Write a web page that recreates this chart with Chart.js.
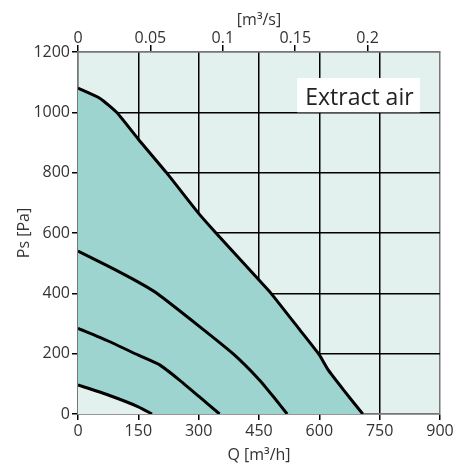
<!DOCTYPE html>
<html>
<head>
<meta charset="utf-8">
<script src="https://cdn.jsdelivr.net/npm/chart.js@4"></script>
<style>
  html, body { margin: 0; padding: 0; background: #fff; }
  #wrap { width: 460px; height: 473px; }
</style>
</head>
<body>
<div id="wrap"><canvas id="myChart" width="460" height="473"></canvas></div>
<script>
// fan curves, Q [m3/h] vs Ps [Pa]
const curveMax = [[0, 1080], [55, 1046], [96, 1000], [150, 911], [220, 800], [300, 665], [343, 600],
                  [450, 444], [480, 400], [552, 278], [600, 196], [622, 146], [660, 80], [708, 0]];
const curve2 = [[0, 540], [75, 490], [150, 437], [196, 400], [300, 292], [386, 199], [451, 113], [486, 57], [520, 0]];
const curve3 = [[0, 284], [75, 242], [150, 195], [204, 162], [250, 115], [300, 59], [352, 0]];
const curveMin = [[0, 96], [75, 63], [150, 24], [184, 0]];

const qTicks = [0, 150, 300, 450, 600, 750, 900];
const psTicks = [0, 200, 400, 600, 800, 1000, 1200];
const m3sTicks = [0, 0.05, 0.1, 0.15, 0.2];
const label = 'Extract air';

const bgLight = '#e2f1ee';
const teal = '#9dd4cf';
const font = { family: 'Open Sans', size: 16 };
const textColor = '#333';

const toXY = arr => arr.map(p => ({ x: p[0], y: p[1] }));

function line(data, fill, bg) {
    return {
        data: toXY(data),
        xAxisID: 'x',
        yAxisID: 'y',
        borderColor: '#000',
        borderWidth: 3,
        pointRadius: 0,
        tension: 0.15,
        fill: fill,
        backgroundColor: bg
    };
}

const areaPlugin = {
    id: 'areaBg',
    beforeDraw(chart) {
        const a = chart.chartArea;
        const c = chart.ctx;
        c.save();
        c.fillStyle = bgLight;
        c.fillRect(a.left, a.top, a.right - a.left, a.bottom - a.top);
        c.restore();
    },
    afterDraw(chart) {
        const c = chart.ctx;
        const x = chart.scales.x, y = chart.scales.y;
        const l = x.getPixelForValue(545), r = x.getPixelForValue(850);
        const t = y.getPixelForValue(1114), b = y.getPixelForValue(1000);
        c.save();
        c.fillStyle = '#fff';
        c.fillRect(l, t, r - l, b - t);
        c.fillStyle = '#222';
        c.font = '23px "Open Sans"';
        c.textBaseline = 'alphabetic';
        c.fillText(label, l + 8, b - 7);
        c.restore();
    }
};

const edge = (v, lo, hi) => (v === lo || v === hi) ? '#777' : '#000';

new Chart(document.getElementById('myChart'), {
    type: 'line',
    data: {
        datasets: [
            // first dataset is drawn on top: its light fill masks the teal below the smallest curve
            line(curveMin, 'origin', bgLight),
            line(curve3, false),
            line(curve2, false),
            line(curveMax, 'origin', teal)
        ]
    },
    plugins: [areaPlugin],
    options: {
        responsive: false,
        animation: false,
        layout: { padding: { right: 20, left: 0, top: 0, bottom: 0 } },
        plugins: {
            legend: { display: false },
            tooltip: { enabled: false }
        },
        scales: {
            x: {
                type: 'linear',
                position: 'bottom',
                min: 0, max: 900,
                z: 1,
                afterBuildTicks: s => { s.ticks = qTicks.map(v => ({ value: v })); },
                afterFit: s => { s.height = 59; },
                ticks: { font: font, color: textColor, padding: 2, maxRotation: 0, callback: v => String(v) },
                grid: {
                    color: ctx => edge(ctx.tick && ctx.tick.value, 0, 900),
                    tickColor: '#000',
                    lineWidth: 1.5,
                    tickLength: 6
                },
                border: { color: '#777', width: 1.5 },
                title: { display: true, text: 'Q [m³/h]', font: font, color: textColor, padding: { top: 0, bottom: 8 } }
            },
            x2: {
                type: 'linear',
                position: 'top',
                min: 0, max: 0.25,
                afterBuildTicks: s => { s.ticks = m3sTicks.map(v => ({ value: v })); },
                afterFit: s => { s.height = 52; },
                ticks: { font: font, color: textColor, padding: -3, maxRotation: 0, callback: v => String(v) },
                grid: { drawOnChartArea: false, tickColor: '#000', lineWidth: 1.5, tickLength: 7 },
                border: { color: '#777', width: 1.5 },
                title: { display: true, text: '[m³/s]', font: font, color: textColor, padding: { top: 11, bottom: 0 } }
            },
            y: {
                type: 'linear',
                min: 0, max: 1200,
                z: 1,
                afterBuildTicks: s => { s.ticks = psTicks.map(v => ({ value: v })); },
                afterFit: s => { s.width = 78; },
                ticks: { font: font, color: textColor, padding: 2, callback: v => String(v) },
                grid: {
                    color: ctx => edge(ctx.tick && ctx.tick.value, 0, 1200),
                    tickColor: '#000',
                    lineWidth: 1.5,
                    tickLength: 6
                },
                border: { color: '#777', width: 1.5 },
                title: { display: true, text: 'Ps [Pa]', font: font, color: textColor, padding: { top: 15, bottom: 0 } }
            }
        }
    }
});
</script>
</body>
</html>
